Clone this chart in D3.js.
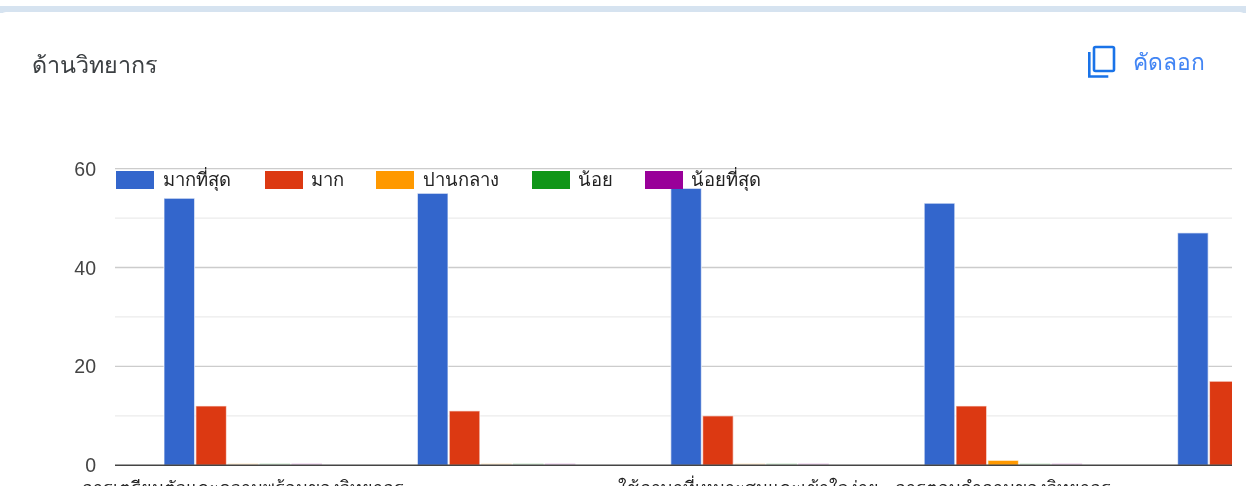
<!DOCTYPE html>
<html><head><meta charset="utf-8">
<script src="https://cdn.jsdelivr.net/npm/d3@7/dist/d3.min.js"></script>
<style>
html,body{margin:0;padding:0;background:#fff;overflow:hidden}
svg{display:block;filter:blur(0.45px)}
text{font-family:"Noto Sans","Liberation Sans",Arial,sans-serif}
</style></head><body>
<svg id="c" width="1246" height="486"></svg>
<script>
const title = "ด้านวิทยากร";
const copyLabel = "คัดลอก";
const categories = [
  "การเตรียมตัวและความพร้อมของวิทยากร",
  "",
  "ใช้ภาษาที่เหมาะสมและเข้าใจง่าย",
  "การตอบคำถามของวิทยากร",
  ""
];
const seriesNames = ["มากที่สุด","มาก","ปานกลาง","น้อย","น้อยที่สุด"];
const seriesColors = ["#3366cc","#dc3912","#ff9900","#109618","#990099"];
const mostValues = [54,55,56,53,47];
const muchValues = [12,11,10,12,17];
const midValues = [0,0,0,1,0];
const lowValues = [0,0,0,0,0];
const lowestValues = [0,0,0,0,0];
const seriesValues = [mostValues,muchValues,midValues,lowValues,lowestValues];
const yTicks = [0,20,40,60];
const yMinor = [10,30,50];
const legendX = [116,265,376,532,645];
const legendTextX = [163,311,423,578,691];

const svg = d3.select("#c");
svg.append("rect").attr("width",1246).attr("height",486).attr("fill","#ffffff");
svg.append("rect").attr("x",0).attr("y",6).attr("width",1246).attr("height",7).attr("fill","#d6e3f0");
svg.append("rect").attr("x",0).attr("y",12).attr("width",1246).attr("height",500).attr("rx",6).attr("fill","#ffffff");

svg.append("text").attr("x",32).attr("y",73).attr("font-size",23.3).attr("fill","#3c4043").text(title);
// copy icon
svg.append("rect").attr("x",1094).attr("y",47).attr("width",20).attr("height",24).attr("rx",1.5).attr("fill","none").attr("stroke","#1a73e8").attr("stroke-width",2.6);
svg.append("path").attr("d","M1089.3 52v24.5h19").attr("fill","none").attr("stroke","#1a73e8").attr("stroke-width",2.6);
svg.append("text").attr("x",1133).attr("y",70).attr("font-size",22.8).attr("fill","#4285f4").text(copyLabel);

const y = d3.scaleLinear().domain([0,60]).range([465.3,168.6]);
const x0 = d3.scaleBand().domain(d3.range(categories.length)).range([116.5,1383.5]);
const x1 = d3.scaleBand().domain(d3.range(seriesNames.length)).range([47.5,205.5]).paddingInner(0.04);

const left=115,right=1232;
svg.append("clipPath").attr("id","plot").append("rect").attr("x",left).attr("y",160).attr("width",right-left).attr("height",310);

svg.selectAll(".minor").data(yMinor).join("line")
  .attr("x1",left).attr("x2",right).attr("y1",d=>y(d)).attr("y2",d=>y(d)).attr("stroke","#ebebeb").attr("stroke-width",1.3);
svg.selectAll(".major").data(yTicks.slice(1)).join("line")
  .attr("x1",left).attr("x2",right).attr("y1",d=>y(d)).attr("y2",d=>y(d)).attr("stroke","#cccccc").attr("stroke-width",1.3);

const plot = svg.append("g").attr("clip-path","url(#plot)");
seriesNames.forEach((n,s)=>{
  plot.selectAll(".b"+s).data(seriesValues[s]).join("rect")
    .attr("x",(d,i)=>x0(i)+x1(s))
    .attr("width",x1.bandwidth())
    .attr("y",d=>d>0?y(d):y(0)-2)
    .attr("height",d=>d>0?y(0)-y(d):2)
    .attr("fill",seriesColors[s])
    .attr("stroke",d=>d>0?"#ffffff":"none")
    .attr("stroke-opacity",.6)
    .attr("stroke-width",1.2)
    .attr("opacity",d=>d>0?1:.16);
});
svg.append("line").attr("x1",left).attr("x2",right).attr("y1",y(0)).attr("y2",y(0)).attr("stroke","#444444").attr("stroke-width",1.5);

svg.selectAll(".yl").data(yTicks).join("text")
  .attr("x",96).attr("y",d=>y(d)+7).attr("text-anchor","end")
  .attr("font-size",19.5).attr("fill","#444444").style("font-family","'Liberation Sans',Arial,sans-serif").text(d=>d);

svg.selectAll(".xl").data(categories).join("text")
  .attr("x",(d,i)=>x0(i)+x0.bandwidth()/2+(i==2?-2:0)).attr("y",494).attr("text-anchor","middle")
  .attr("font-size",18).attr("fill","#222222").text(d=>d);

seriesNames.forEach((n,i)=>{
  svg.append("rect").attr("x",legendX[i]).attr("y",171).attr("width",38).attr("height",18).attr("fill",seriesColors[i]);
  svg.append("text").attr("x",legendTextX[i]).attr("y",186).attr("font-size",18.4).attr("fill","#222222").text(n);
});
</script>
</body></html>
